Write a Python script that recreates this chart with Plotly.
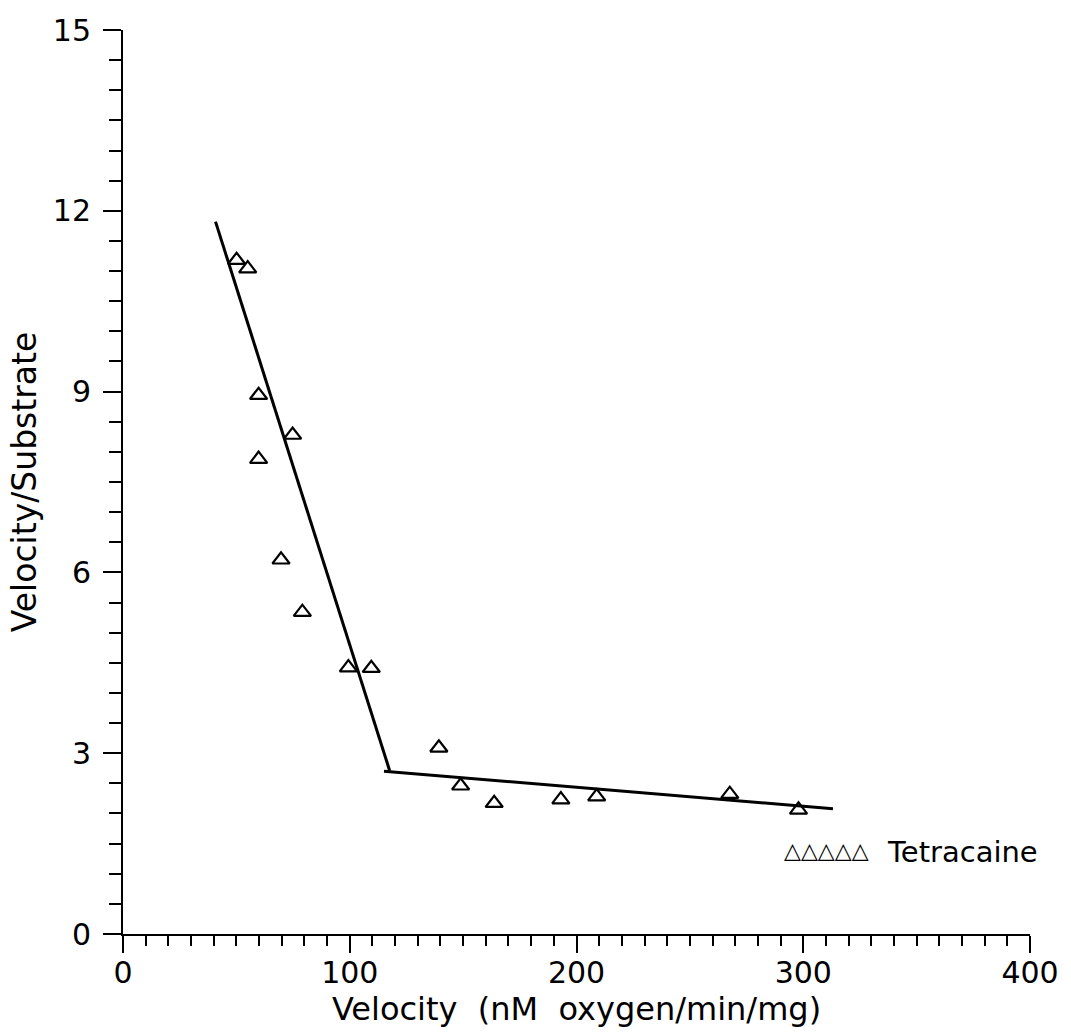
import plotly.graph_objects as go

# Observed data (Eadie-Hofstee style plot)
velocity = [50.1, 55.0, 59.8, 74.8, 59.8, 69.7, 79.1, 99.4, 109.5,
            139.3, 148.9, 163.7, 193.1, 208.9, 267.6, 297.9]
velocity_over_substrate = [11.18, 11.04, 8.94, 8.28, 7.88, 6.21, 5.34, 4.42, 4.41,
                           3.09, 2.46, 2.17, 2.23, 2.28, 2.32, 2.06]

# Fitted line segments
fit1_x = [40.8, 117.6]
fit1_y = [11.82, 2.71]
fit2_x = [115.1, 313.1]
fit2_y = [2.70, 2.08]

x_ticks = [0, 100, 200, 300, 400]
y_ticks = [0, 3, 6, 9, 12, 15]

FONT = "DejaVu Sans"

fig = go.Figure()
fig.add_trace(go.Scatter(x=fit1_x, y=fit1_y, mode="lines",
                         line=dict(color="black", width=3), showlegend=False))
fig.add_trace(go.Scatter(x=fit2_x, y=fit2_y, mode="lines",
                         line=dict(color="black", width=3), showlegend=False))
fig.add_trace(go.Scatter(x=velocity, y=velocity_over_substrate, mode="markers",
                         name="Tetracaine",
                         marker=dict(symbol="triangle-up-open", size=15, color="black",
                                     line=dict(color="black", width=2.2)),
                         showlegend=False))

# legend-like label
fig.add_annotation(x=330, y=1.38, xref="x", yref="y", xanchor="right", yanchor="middle",
                   text="△△△△△", showarrow=False,
                   font=dict(family=FONT, size=22, color="black"))
fig.add_annotation(x=336, y=1.36, xref="x", yref="y", xanchor="left", yanchor="middle",
                   text="Tetracaine", showarrow=False,
                   font=dict(family=FONT, size=29, color="black"))

fig.update_layout(
    width=1071, height=1036,
    margin=dict(l=123, r=38, t=24, b=102),
    paper_bgcolor="white", plot_bgcolor="white",
    font=dict(family=FONT, color="black", size=28),
    xaxis=dict(range=[0, 400], tickvals=x_ticks, ticks="outside", ticklen=17, tickwidth=2,
               tickcolor="black", showline=True, linecolor="black", linewidth=2,
               showgrid=False, zeroline=False, ticklabelstandoff=-6,
               tickfont=dict(family=FONT, size=30),
               minor=dict(dtick=10, ticks="outside", ticklen=10, tickwidth=2,
                          tickcolor="black", showgrid=False),
               title=dict(text="Velocity  (nM  oxygen/min/mg)", standoff=0,
                          font=dict(family=FONT, size=32))),
    yaxis=dict(range=[0, 15], tickvals=y_ticks, ticks="outside", ticklen=18, tickwidth=2,
               tickcolor="black", showline=True, linecolor="black", linewidth=2,
               showgrid=False, zeroline=False, ticklabelstandoff=6,
               tickfont=dict(family=FONT, size=30),
               minor=dict(dtick=0.5, ticks="outside", ticklen=12, tickwidth=2,
                          tickcolor="black", showgrid=False),
               title=dict(text="Velocity/Substrate", standoff=6,
                          font=dict(family=FONT, size=33))),
)

fig.write_html("out.html")
